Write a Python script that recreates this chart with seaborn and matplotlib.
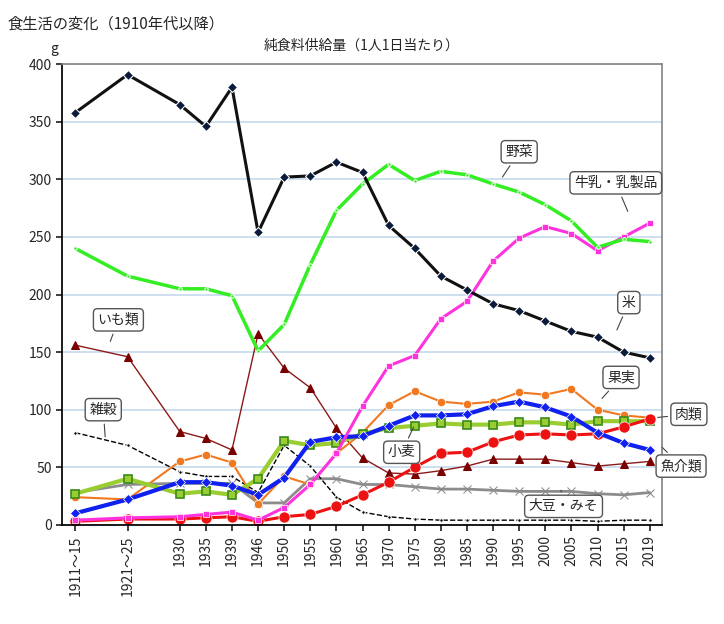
import numpy as np
import pandas as pd
import matplotlib
matplotlib.use("Agg")
import matplotlib.pyplot as plt
import seaborn as sns

years = ["1911～15", "1921～25", "1930", "1935", "1939", "1946", "1950", "1955", "1960",
         "1965", "1970", "1975", "1980", "1985", "1990", "1995", "2000", "2005",
         "2010", "2015", "2019"]
xpos = [0, 2, 4, 5, 6, 7, 8, 9, 10, 11, 12, 13, 14, 15, 16, 17, 18, 19, 20, 21, 22]

rice = [358, 391, 365, 346, 380, 254, 302, 303, 315, 306, 260, 240, 216, 204, 192, 186, 177, 168, 163, 150, 145]
vegetables = [240, 216, 205, 205, 199, 151, 174, 226, 273, 296, 313, 299, 307, 304, 296, 289, 278, 264, 241, 248, 246]
milk = [4, 6, 7, 9, 11, 4, 15, 35, 62, 103, 138, 147, 179, 194, 229, 249, 259, 253, 238, 250, 262]
potatoes = [156, 146, 81, 75, 65, 166, 136, 119, 84, 58, 45, 44, 47, 51, 57, 57, 57, 54, 51, 53, 55]
fruit = [24, 22, 55, 61, 54, 18, 42, 35, 62, 80, 104, 116, 107, 105, 107, 115, 113, 118, 100, 95, 93]
fish = [10, 22, 37, 37, 34, 26, 41, 72, 76, 77, 86, 95, 95, 96, 103, 107, 102, 94, 80, 71, 65]
wheat = [27, 40, 27, 29, 26, 40, 73, 69, 71, 79, 84, 86, 88, 87, 87, 89, 89, 87, 90, 90, 90]
meat = [3, 5, 5, 6, 7, 3, 7, 9, 16, 26, 37, 50, 62, 63, 72, 78, 79, 78, 79, 85, 92]
soy = [28, 35, 36, 36, 36, 19, 19, 40, 40, 35, 35, 33, 31, 31, 30, 29, 29, 29, 27, 26, 28]
grains = [80, 69, 46, 42, 42, 28, 69, 51, 24, 11, 7, 5, 4, 4, 4, 4, 4, 4, 3, 4, 4]

sns.set_theme(style="white")
plt.rcParams["font.family"] = ["Noto Sans CJK JP", "DejaVu Sans"]

fig = plt.figure(figsize=(7.24, 6.24), dpi=100)
ax = fig.add_axes([0.086, 0.159, 0.828, 0.738])

styles = [
    (soy, dict(color="#8c8c8c", lw=2, marker="x", ms=6, mec="#8c8c8c")),
    (grains, dict(color="black", lw=1, ls="--", marker="o", ms=2.5)),
    (potatoes, dict(color="#8b1a1a", lw=1, marker="^", ms=6, mec="#7a0000", mfc="#7a0000")),
    (fruit, dict(color="#f07820", lw=1.5, marker="o", ms=6, mfc="#f07820", mec="white", mew=0.5)),
    (wheat, dict(color="#9acd32", lw=3, marker="s", ms=6, mfc="#9acd32", mec="#3a8a1a", mew=1.2)),
    (meat, dict(color="#ee1111", lw=2.2, marker="o", ms=8, mfc="#ee1111", mec="white", mew=0.5)),
    (fish, dict(color="#1020ee", lw=3, marker="D", ms=5, mfc="#1020ee", mec="white", mew=0.5)),
    (milk, dict(color="#ff33dd", lw=2.2, marker="s", ms=4, mfc="#ff33dd", mec="white", mew=0.5)),
    (vegetables, dict(color="#33ee22", lw=2.5, marker="o", ms=2.5)),
    (rice, dict(color="#111111", lw=2.2, marker="D", ms=5, mfc="#0a1a3a")),
]
for vals, kw in styles:
    df = pd.DataFrame({"x": xpos, "y": vals})
    sns.lineplot(data=df, x="x", y="y", ax=ax, **kw)

ax.set_xlim(-0.5, 22.46)
ax.set_ylim(0, 400)
ax.set_yticks(range(0, 401, 50))
ax.yaxis.grid(True, color="#c5d9ee", lw=1.2)
ax.set_axisbelow(True)
ax.set_xticks(xpos)
ax.set_xticklabels(years, rotation=90, fontsize=10)
ax.tick_params(axis="y", labelsize=10, left=True, length=4)
ax.tick_params(axis="x", bottom=True, length=4)
ax.set_xlabel("")
ax.set_ylabel("")
for s in ax.spines.values():
    s.set_color("#888888")
ax.spines["left"].set_color("black")
ax.spines["bottom"].set_color("black")

fig.text(0.01, 0.975, "食生活の変化（1910年代以降）", fontsize=11, va="top")
fig.text(0.5, 0.915, "純食料供給量（1人1日当たり）", fontsize=10, ha="center", va="bottom")
fig.text(0.075, 0.91, "g", fontsize=10, ha="center", va="bottom")

callouts = [
    ("野菜", (17.0, 324), (16.3, 300)),
    ("牛乳・乳製品", (20.7, 297), (21.2, 270)),
    ("米", (21.2, 193), (20.7, 167)),
    ("いも類", (1.65, 178), (1.3, 157)),
    ("雑穀", (1.07, 100), (1.15, 74)),
    ("果実", (20.9, 128), (20.1, 108)),
    ("肉類", (23.5, 96), (22.2, 93)),
    ("魚介類", (23.2, 51), (22.4, 69)),
    ("小麦", (12.5, 63), (13.0, 87)),
    ("大豆・みそ", (18.7, 16), (18.6, 30)),
]
for label, txt, tip in callouts:
    ax.annotate(label, xy=tip, xytext=txt, ha="center", va="center", fontsize=10,
                annotation_clip=False,
                bbox=dict(boxstyle="round,pad=0.3", fc="white", ec="#555555", lw=1),
                arrowprops=dict(arrowstyle="-", color="#444444", lw=0.8))

fig.savefig("out.png", dpi=100)
